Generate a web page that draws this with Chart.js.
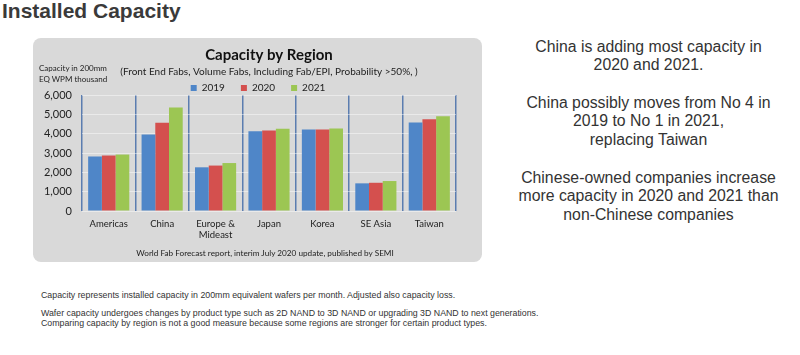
<!DOCTYPE html>
<html>
<head>
<meta charset="utf-8">
<script src="https://cdn.jsdelivr.net/npm/chart.js@4/dist/chart.umd.min.js"></script>
<style>
  html, body { margin: 0; padding: 0; background: #ffffff; }
  body { width: 800px; height: 355px; position: relative; overflow: hidden; font-family: "Liberation Sans", Arial, sans-serif; color: #333; }
  .abs { position: absolute; white-space: nowrap; }
  #pageTitle { left: 2px; top: 0px; font-size: 21px; font-weight: bold; line-height: 22px; color: #3a3a3a; }
  #panel { left: 33px; top: 38px; width: 449px; height: 224px; background: #d9d9d9; border-radius: 8px; }
  #chartWrap { left: 34px; top: 38px; width: 448px; height: 224px; }
  #axisCaption { left: 39px; top: 63px; font-family: Lato, sans-serif; font-size: 8px; line-height: 11px; color: #222; }
  #footer { left: 116px; top: 247px; width: 298px; text-align: center; font-family: Lato, sans-serif; font-size: 8.2px; line-height: 12px; color: #222; }
  #rightText { left: 490px; top: 37.6px; width: 317px; text-align: center; font-size: 15.8px; line-height: 18.7px; color: #333; }
  .note { left: 41px; font-size: 8.8px; line-height: 9.5px; color: #333; }
</style>
</head>
<body>
<div id="pageTitle" class="abs">Installed Capacity</div>
<div id="panel" class="abs"></div>
<div id="chartWrap" class="abs"><canvas id="c" width="448" height="224"></canvas></div>
<div id="axisCaption" class="abs">Capacity in 200mm<br>EQ WPM thousand</div>
<div id="footer" class="abs">World Fab Forecast report, interim July 2020 update, published by SEMI</div>
<div id="rightText" class="abs">China is adding most capacity in<br>2020 and 2021.<br><br>China possibly moves from No 4 in<br>2019 to No 1 in 2021,<br>replacing Taiwan<br><br>Chinese-owned companies increase<br>more capacity in 2020 and 2021 than<br>non-Chinese companies</div>
<div class="abs note" style="top:291px;">Capacity represents installed capacity in 200mm equivalent wafers per month. Adjusted also capacity loss.</div>
<div class="abs note" style="top:309px;">Wafer capacity undergoes changes by product type such as 2D NAND to 3D NAND or upgrading 3D NAND to next generations.<br>Comparing capacity by region is not a good measure because some regions are stronger for certain product types.</div>
<script>
// ---- Data (thousand wafers per month, 200mm equivalent) ----
const regions = ['Americas', 'China', ['Europe &', 'Mideast'], 'Japan', 'Korea', 'SE Asia', 'Taiwan'];
const seriesNames = ['2019', '2020', '2021'];
const cap2019 = [2820, 3960, 2260, 4130, 4220, 1430, 4580];
const cap2020 = [2870, 4560, 2350, 4170, 4220, 1460, 4740];
const cap2021 = [2920, 5350, 2480, 4250, 4270, 1550, 4900];
const yTicks = [0, 1000, 2000, 3000, 4000, 5000, 6000];
const chartTitle = 'Capacity by Region';
const chartSubtitle = '(Front End Fabs, Volume Fabs, Including Fab/EPI, Probability >50%, )';

const colors = ['#4f86c8', '#d4504e', '#9cc653'];
const seriesValues = [cap2019, cap2020, cap2021];
const fmt = (v) => Number(v).toLocaleString('en-US');

// width of the widest y tick label, so mirrored labels can sit right-aligned left of the plot
const mctx = document.createElement('canvas').getContext('2d');
mctx.font = '11px Lato';
const widestTick = Math.max(...yTicks.map(v => mctx.measureText(fmt(v)).width));

new Chart(document.getElementById('c'), {
  type: 'bar',
  data: {
    labels: regions,
    datasets: seriesNames.map((name, i) => ({
      label: name,
      data: seriesValues[i],
      backgroundColor: colors[i],
      borderWidth: 0,
      barPercentage: 1.0,
      categoryPercentage: 0.77
    }))
  },
  options: {
    responsive: false,
    devicePixelRatio: 1,
    animation: false,
    layout: { padding: { top: 8, left: 26, right: 26, bottom: 0 } },
    plugins: {
      title: {
        display: true,
        text: chartTitle,
        fullSize: false,
        color: '#111',
        font: { family: 'Lato', size: 15, weight: 'bold', lineHeight: 1.2 },
        padding: { top: 0, bottom: 2 }
      },
      subtitle: {
        display: true,
        text: chartSubtitle,
        fullSize: false,
        color: '#222',
        font: { family: 'Lato', size: 10, lineHeight: 1.2 },
        padding: { top: 0, bottom: -11 }
      },
      legend: {
        display: true,
        position: 'top',
        maxHeight: 28,
        labels: {
          boxWidth: 6,
          boxHeight: 6,
          padding: 16,
          color: '#222',
          font: { family: 'Lato', size: 10 }
        }
      },
      tooltip: { enabled: false }
    },
    scales: {
      x: {
        afterFit: (s) => { s.height = 51; },
        grid: { display: true, offset: true, color: '#5b7db0', lineWidth: 1.5, drawTicks: false },
        border: { display: false },
        ticks: { color: '#222', padding: 7, font: { family: 'Lato', size: 9.5, lineHeight: 1.2 }, maxRotation: 0, autoSkip: false }
      },
      y: {
        min: yTicks[0],
        max: yTicks[yTicks.length - 1],
        afterFit: (s) => { s.width = 22; },
        afterBuildTicks: (s) => { s.ticks = yTicks.map(v => ({ value: v })); },
        grid: { color: 'rgba(255,255,255,0.45)', lineWidth: 1, drawTicks: false },
        border: { display: false },
        ticks: {
          color: '#222',
          mirror: true,
          crossAlign: 'far',
          padding: -10 - widestTick,
          font: { family: 'Lato', size: 11 },
          callback: fmt
        }
      }
    }
  }
});
</script>
</body>
</html>
